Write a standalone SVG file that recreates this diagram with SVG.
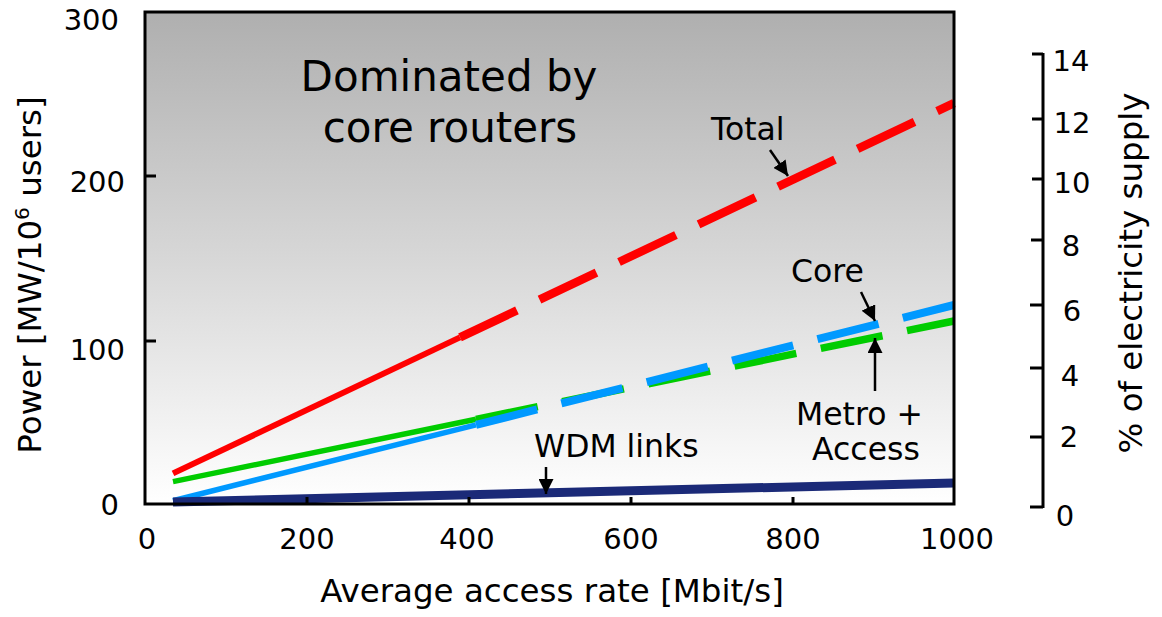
<svg xmlns="http://www.w3.org/2000/svg" width="1162" height="617" viewBox="0 0 1162 617">
  <defs>
    <linearGradient id="bg" x1="0" y1="0" x2="0" y2="1">
      <stop offset="0" stop-color="#afafaf"/>
      <stop offset="1" stop-color="#ffffff"/>
    </linearGradient>
    <marker id="arrow" viewBox="0 0 12 12" refX="12" refY="6" markerWidth="15" markerHeight="15" markerUnits="userSpaceOnUse" orient="auto">
      <path d="M0,0 L12,6 L0,12 z" fill="#000"/>
    </marker>
    <style>
      text { font-family: "DejaVu Sans", Verdana, sans-serif; fill: #000; }
      .tick { font-size: 29px; }
      .title { font-size: 32.5px; }
      .label { font-size: 31.5px; }
      .big { font-size: 42px; }
      .axis { stroke: #000; stroke-width: 3; fill: none; }
      .tk { stroke: #000; stroke-width: 3; }
      .dash { stroke-dasharray: 63 25; fill: none; }
      .solid { fill: none; }
      .arr { stroke: #000; stroke-width: 2.5; fill: none; marker-end: url(#arrow); }
    </style>
  </defs>

  <g id="plot-area">
    <rect x="145" y="12" width="809" height="492" fill="url(#bg)"/>
  </g>

  <g id="series">
    <g id="total-line" stroke="#ff0000">
      <line class="solid" x1="173" y1="473.4" x2="460" y2="337.4" stroke-width="6"/>
      <line class="dash" x1="460" y1="337.4" x2="954" y2="103.2" stroke-width="8.5"/>
    </g>
    <g id="metro-access-line" stroke="#00cc00">
      <line class="solid" x1="173" y1="481.6" x2="476" y2="419.3" stroke-width="5.5"/>
      <line class="dash" x1="476" y1="419.3" x2="954" y2="321" stroke-width="7.5"/>
    </g>
    <g id="core-line" stroke="#0099ff">
      <line class="solid" x1="173" y1="500.75" x2="476" y2="424.8" stroke-width="5.5"/>
      <line class="dash" x1="476" y1="424.8" x2="954" y2="305" stroke-width="8"/>
    </g>
    <g id="wdm-line" stroke="#1b2a78">
      <line class="solid" x1="173" y1="502" x2="954" y2="483" stroke-width="9"/>
    </g>
  </g>

  <g id="frame">
    <rect class="axis" x="145" y="12" width="809" height="492"/>
    <line class="tk" x1="145" y1="176" x2="156" y2="176"/>
    <line class="tk" x1="145" y1="341" x2="156" y2="341"/>
    <line class="tk" x1="307" y1="504" x2="307" y2="497"/>
    <line class="tk" x1="469" y1="504" x2="469" y2="497"/>
    <line class="tk" x1="631" y1="504" x2="631" y2="497"/>
    <line class="tk" x1="793" y1="504" x2="793" y2="497"/>
  </g>

  <g id="left-axis-labels" class="tick" text-anchor="end">
    <text x="119" y="30">300</text>
    <text x="125" y="192">200</text>
    <text x="125" y="360">100</text>
    <text x="119" y="515">0</text>
  </g>

  <g id="x-axis-labels" class="tick" text-anchor="middle">
    <text x="147" y="549">0</text>
    <text x="307" y="549">200</text>
    <text x="467" y="549">400</text>
    <text x="631" y="549">600</text>
    <text x="793" y="549">800</text>
    <text x="957" y="549">1000</text>
  </g>

  <g id="right-axis">
    <line class="axis" x1="1043" y1="53" x2="1043" y2="508"/>
    <line class="tk" x1="1032" y1="54" x2="1043" y2="54"/>
    <line class="tk" x1="1032" y1="119" x2="1043" y2="119"/>
    <line class="tk" x1="1032" y1="179" x2="1043" y2="179"/>
    <line class="tk" x1="1031" y1="240" x2="1043" y2="240"/>
    <line class="tk" x1="1030" y1="305" x2="1043" y2="305"/>
    <line class="tk" x1="1030" y1="368" x2="1043" y2="368"/>
    <line class="tk" x1="1030" y1="437" x2="1043" y2="437"/>
    <line class="tk" x1="1030" y1="507" x2="1043" y2="507"/>
    <g class="tick" text-anchor="middle">
      <text x="1071" y="71">14</text>
      <text x="1072" y="133">12</text>
      <text x="1072" y="193">10</text>
      <text x="1071" y="256">8</text>
      <text x="1072" y="321">6</text>
      <text x="1070" y="386">4</text>
      <text x="1069" y="447">2</text>
      <text x="1065" y="526">0</text>
    </g>
  </g>

  <g id="axis-titles" class="title" text-anchor="middle">
    <text transform="translate(41,275) rotate(-90)">Power [MW/10<tspan font-size="20" dy="-12">6</tspan><tspan dy="12"> users]</tspan></text>
    <text transform="translate(1142,273) rotate(-90)">% of electricity supply</text>
    <text x="552" y="602">Average access rate [Mbit/s]</text>
  </g>

  <g id="headline" class="big" text-anchor="middle">
    <text x="449" y="91">Dominated by</text>
    <text x="450" y="142">core routers</text>
  </g>

  <g id="label-total" class="label"><text x="711" y="140">Total</text></g>
  <g id="label-core" class="label"><text x="791" y="282">Core</text></g>
  <g id="label-metro" class="label">
    <text x="796" y="425">Metro +</text>
    <text x="812" y="460">Access</text>
  </g>
  <g id="label-wdm" class="label"><text x="534" y="457">WDM links</text></g>

  <g id="connectors">
    <line class="arr" x1="770" y1="150" x2="788" y2="176"/>
    <line class="arr" x1="861" y1="292" x2="875" y2="321"/>
    <line class="arr" x1="875" y1="391" x2="875" y2="338"/>
    <line class="arr" x1="546" y1="467" x2="546" y2="494"/>
  </g>
</svg>
